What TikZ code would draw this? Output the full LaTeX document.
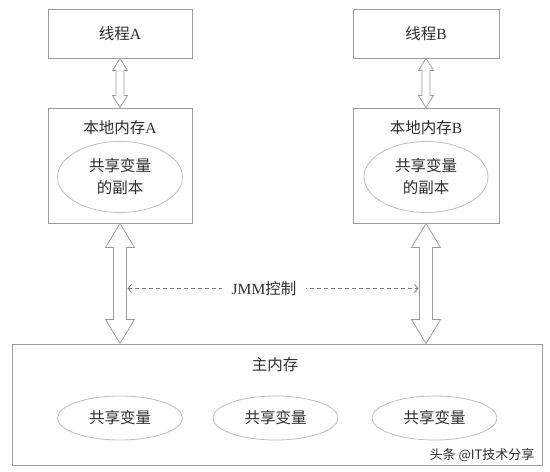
\documentclass[tikz,border=0pt]{standalone}
\usepackage{fontspec}
\setmainfont{Liberation Serif}
\newfontfamily\cjk{Noto Sans CJK SC}
\usetikzlibrary{arrows.meta,positioning,calc,shapes.geometric}
\definecolor{LineGray}{HTML}{9C9C9C}
\definecolor{DashGray}{HTML}{7A7A7A}
\definecolor{OvalGray}{HTML}{BEBEBE}
\definecolor{InkGray}{HTML}{2E2E2E}

% hollow double arrow between two anchors: top, bottom, half shaft, half head, head length
\newcommand{\fatarrow}[5]{%
  \draw[fatline] (#1) -- ($(#1)+(#4,-#5)$) -- ($(#1)+(#3,-#5)$)
    -- ($(#2)+(#3,#5)$) -- ($(#2)+(#4,#5)$) -- (#2)
    -- ($(#2)+(-#4,#5)$) -- ($(#2)+(-#3,#5)$)
    -- ($(#1)+(-#3,-#5)$) -- ($(#1)+(-#4,-#5)$) -- cycle;}

\begin{document}
\begin{tikzpicture}[x=1pt,y=1pt,
      txt/.style={text=InkGray,font=\fontsize{15.5}{22}\selectfont,align=center},
      box/.style={draw=LineGray,line width=0.9pt,txt},
      oval/.style={ellipse,draw=OvalGray,line width=0.8pt,txt,inner sep=0pt},
      fatline/.style={draw=LineGray,line width=0.8pt,fill=white,line join=miter},
      ctrl/.style={{Straight Barb[length=3.5pt,width=8pt]}-{Straight Barb[length=3.5pt,width=8pt]},
                   DashGray,line width=0.8pt,dash pattern=on 4pt off 3pt},
    ]
    \useasboundingbox[fill=white] (0,0) rectangle (550,472);
    % threads
    \node[box,minimum width=144pt,minimum height=49pt] (threadA) at (120,438.5) {{\cjk 线程}A};
    \node[box,minimum width=146pt,minimum height=49pt] (threadB) at (426,438.5) {{\cjk 线程}B};
    % local memories
    \node[box,minimum width=144pt,minimum height=115pt] (localA) at (120,306.5) {};
    \node[box,minimum width=146pt,minimum height=115pt] (localB) at (426,306.5) {};
    \node[txt] (titleA) at ($(localA.north)+(0,-20)$) {{\cjk 本地内存}A};
    \node[txt] (titleB) at ($(localB.north)+(0,-20)$) {{\cjk 本地内存}B};
    \node[oval,minimum width=125pt,minimum height=71pt] (copyA) at ($(localA.center)+(0,-11.5)$)
        {\cjk 共享变量\\ \cjk 的副本};
    \node[oval,minimum width=124pt,minimum height=71pt] (copyB) at ($(localB.center)+(0,-11.5)$)
        {\cjk 共享变量\\ \cjk 的副本};
    % main memory
    \node[box,minimum width=530pt,minimum height=121pt] (main) at (277,67.5) {};
    \node[txt] (mainTitle) at (275,107) {\cjk 主内存};
    \node[oval,minimum width=125pt,minimum height=44pt] (var1) at (120,54) {\cjk 共享变量};
    \node[oval,minimum width=125pt,minimum height=44pt] (var2) at (275.5,54) {\cjk 共享变量};
    \node[oval,minimum width=125pt,minimum height=44pt] (var3) at (434.5,54) {\cjk 共享变量};
    \node[anchor=east,text=InkGray,font=\cjk\fontsize{13}{15}\selectfont] (mark) at (538,17)
        {头条 @IT技术分享};

    \fatarrow{threadA.south}{localA.north}{4}{7.5}{12}
    \fatarrow{threadB.south}{localB.north}{4}{7.5}{12}
    \fatarrow{localA.south}{localA.south |- main.north}{6.5}{14.5}{24}
    \fatarrow{localB.south}{localB.south |- main.north}{6.5}{14.5}{24}

    \coordinate (ctrlL) at ($(localA.south)+(7.5,-65)$);
    \coordinate (ctrlR) at ($(localB.south)+(-7.5,-65)$);
    \draw[ctrl] (ctrlL) -- (ctrlR)
        node[midway,xshift=-9pt,fill=white,txt,inner xsep=10pt] (jmm) {JMM{\cjk 控制}};
  \end{tikzpicture}
\end{document}
